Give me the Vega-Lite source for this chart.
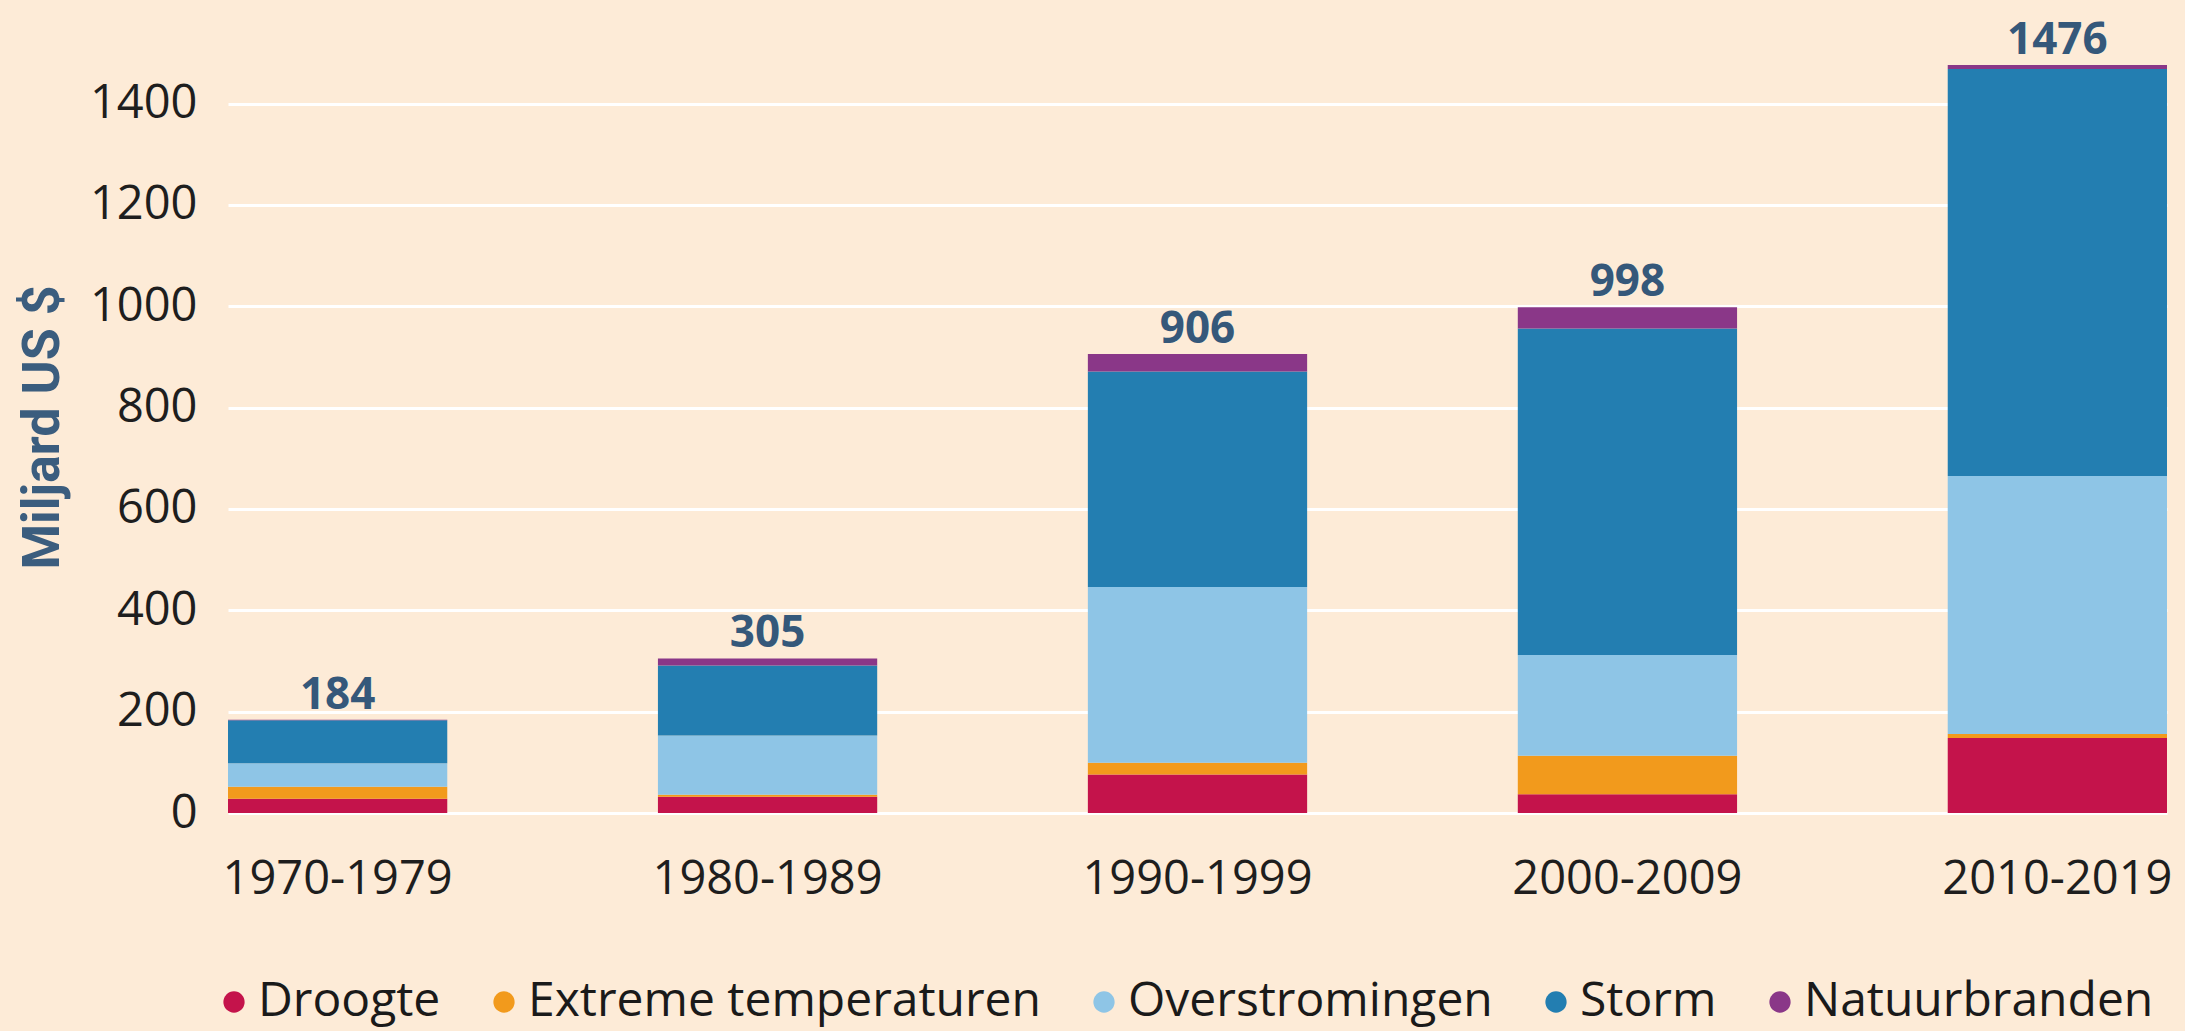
{
  "$schema": "https://vega.github.io/schema/vega-lite/v6.json",
  "width": 1939,
  "height": 750,
  "autosize": {"type": "none"},
  "padding": {"left": 228, "top": 63, "right": 18, "bottom": 218},
  "background": "#fdebd7",
  "config": {"view": {"stroke": null}, "font": "Open Sans"},
  "data": {
    "values": [
      {"decade": "1970-1979", "type": "Droogte", "k": 1, "value": 28},
      {"decade": "1970-1979", "type": "Extreme temperaturen", "k": 2, "value": 24},
      {"decade": "1970-1979", "type": "Overstromingen", "k": 3, "value": 46},
      {"decade": "1970-1979", "type": "Storm", "k": 4, "value": 85},
      {"decade": "1970-1979", "type": "Natuurbranden", "k": 5, "value": 1},
      {"decade": "1980-1989", "type": "Droogte", "k": 1, "value": 32},
      {"decade": "1980-1989", "type": "Extreme temperaturen", "k": 2, "value": 4},
      {"decade": "1980-1989", "type": "Overstromingen", "k": 3, "value": 117},
      {"decade": "1980-1989", "type": "Storm", "k": 4, "value": 138},
      {"decade": "1980-1989", "type": "Natuurbranden", "k": 5, "value": 14},
      {"decade": "1990-1999", "type": "Droogte", "k": 1, "value": 76},
      {"decade": "1990-1999", "type": "Extreme temperaturen", "k": 2, "value": 23},
      {"decade": "1990-1999", "type": "Overstromingen", "k": 3, "value": 347},
      {"decade": "1990-1999", "type": "Storm", "k": 4, "value": 425},
      {"decade": "1990-1999", "type": "Natuurbranden", "k": 5, "value": 35},
      {"decade": "2000-2009", "type": "Droogte", "k": 1, "value": 37},
      {"decade": "2000-2009", "type": "Extreme temperaturen", "k": 2, "value": 76},
      {"decade": "2000-2009", "type": "Overstromingen", "k": 3, "value": 199},
      {"decade": "2000-2009", "type": "Storm", "k": 4, "value": 644},
      {"decade": "2000-2009", "type": "Natuurbranden", "k": 5, "value": 42},
      {"decade": "2010-2019", "type": "Droogte", "k": 1, "value": 148},
      {"decade": "2010-2019", "type": "Extreme temperaturen", "k": 2, "value": 8},
      {"decade": "2010-2019", "type": "Overstromingen", "k": 3, "value": 509},
      {"decade": "2010-2019", "type": "Storm", "k": 4, "value": 803},
      {"decade": "2010-2019", "type": "Natuurbranden", "k": 5, "value": 8}
    ]
  },
  "encoding": {
    "x": {
      "field": "decade",
      "type": "nominal",
      "scale": {"paddingInner": 0.49, "paddingOuter": 0},
      "axis": {
        "title": null,
        "domain": false,
        "ticks": false,
        "labelAngle": 0,
        "labelFont": "Open Sans",
        "labelFontSize": 47,
        "labelColor": "#1e1e1e",
        "labelPadding": 43,
        "labelLimit": 1000
      }
    }
  },
  "layer": [
    {
      "mark": {"type": "bar"},
      "encoding": {
        "y": {
          "field": "value",
          "type": "quantitative",
          "stack": "zero",
          "scale": {"domain": [0, 1480], "nice": false},
          "axis": {
            "title": "Miljard US $",
            "values": [0, 200, 400, 600, 800, 1000, 1200, 1400],
            "format": "d",
            "domain": false,
            "ticks": false,
            "grid": true,
            "gridColor": "#ffffff",
            "gridWidth": 3,
            "labelFont": "Open Sans",
            "labelFontSize": 47,
            "labelColor": "#1e1e1e",
            "labelPadding": 31,
            "labelLimit": 1000,
            "titleFont": "Roboto",
            "titleFontWeight": "bold",
            "titleFontSize": 52,
            "titleColor": "#3b5d7e",
            "titleX": -186,
            "titleY": 364,
            "titleBaseline": "middle",
            "titleAlign": "center",
            "titleAngle": -90
          }
        },
        "order": {"field": "k", "type": "quantitative"},
        "color": {
          "field": "type",
          "type": "nominal",
          "scale": {
            "domain": ["Droogte", "Extreme temperaturen", "Overstromingen", "Storm", "Natuurbranden"],
            "range": ["#c4134b", "#f29a1c", "#8ec5e6", "#237eb1", "#8a3788"]
          },
          "legend": {
            "title": null,
            "orient": "none",
            "legendX": -18,
            "legendY": 915,
            "direction": "horizontal",
            "columns": 5,
            "symbolType": "circle",
            "symbolSize": 452,
            "symbolStrokeWidth": 0,
            "labelFont": "Open Sans",
            "labelFontSize": 48,
            "labelColor": "#1a1a1a",
            "labelOffset": 0,
            "labelLimit": 1000,
            "columnPadding": 39,
            "padding": 0
          }
        }
      }
    },
    {
      "mark": {
        "type": "text",
        "baseline": "alphabetic",
        "dy": -11,
        "font": "Open Sans",
        "fontWeight": "bold",
        "fontSize": 44,
        "color": "#35587a"
      },
      "encoding": {
        "y": {
          "aggregate": "sum",
          "field": "value",
          "type": "quantitative",
          "axis": {
            "title": "Miljard US $",
            "values": [0, 200, 400, 600, 800, 1000, 1200, 1400],
            "format": "d",
            "domain": false,
            "ticks": false,
            "grid": true,
            "gridColor": "#ffffff",
            "gridWidth": 3,
            "labelFont": "Open Sans",
            "labelFontSize": 47,
            "labelColor": "#1e1e1e",
            "labelPadding": 31,
            "labelLimit": 1000,
            "titleFont": "Roboto",
            "titleFontWeight": "bold",
            "titleFontSize": 52,
            "titleColor": "#3b5d7e",
            "titleX": -186,
            "titleY": 364,
            "titleBaseline": "middle",
            "titleAlign": "center",
            "titleAngle": -90
          }
        },
        "text": {"aggregate": "sum", "field": "value", "type": "quantitative"}
      }
    }
  ]
}
